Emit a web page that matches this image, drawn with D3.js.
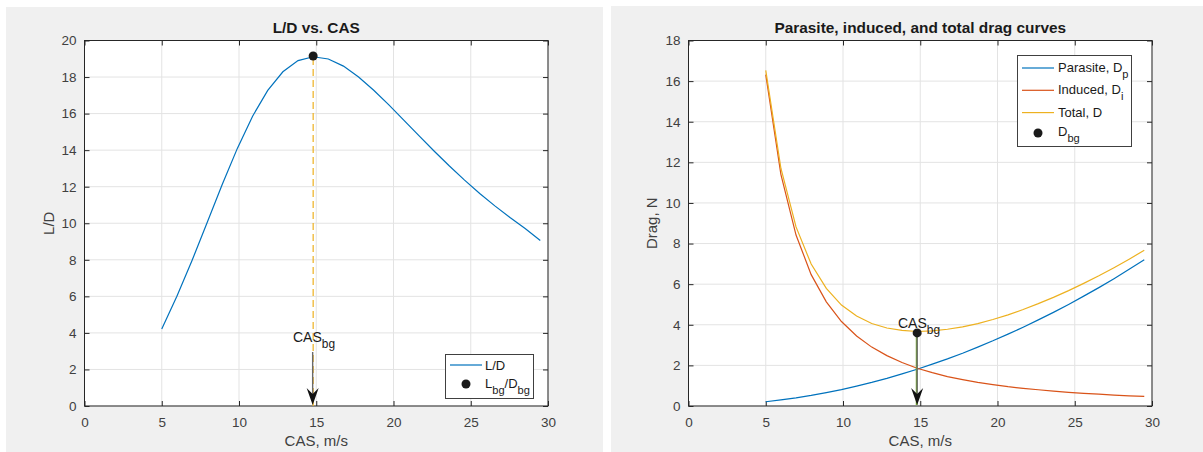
<!DOCTYPE html>
<html><head><meta charset="utf-8">
<script src="https://cdn.jsdelivr.net/npm/d3@7"></script>
<style>
body{margin:0;background:#fff;}
svg{display:block;font-family:"Liberation Sans",Arial,Helvetica,sans-serif;}
</style></head>
<body><svg id="chart" width="1203" height="452"></svg>
<script>
// ---- data ----
const cas = [5.00,5.98,6.96,7.94,8.92,9.90,10.88,11.86,12.84,13.82,14.80,15.78,16.76,17.74,18.72,19.70,20.68,21.66,22.64,23.62,24.60,25.58,26.56,27.54,28.52,29.50];
const liftToDrag = [4.22,6.00,7.96,10.04,12.13,14.11,15.86,17.27,18.29,18.90,19.11,18.99,18.60,18.00,17.28,16.48,15.63,14.78,13.94,13.13,12.36,11.63,10.95,10.31,9.71,9.06];
const parasiteDrag = [0.21,0.30,0.40,0.52,0.66,0.81,0.98,1.16,1.36,1.58,1.81,2.06,2.32,2.60,2.90,3.21,3.54,3.88,4.24,4.61,5.00,5.41,5.83,6.27,6.73,7.20];
const inducedDrag = [16.32,11.41,8.42,6.47,5.13,4.16,3.45,2.90,2.48,2.14,1.86,1.64,1.45,1.30,1.16,1.05,0.95,0.87,0.80,0.73,0.67,0.62,0.58,0.54,0.50,0.47];
const totalDrag = [16.53,11.71,8.82,6.99,5.79,4.97,4.43,4.06,3.84,3.72,3.67,3.70,3.78,3.90,4.06,4.26,4.49,4.75,5.04,5.35,5.68,6.04,6.41,6.81,7.23,7.67];
const casBg = 14.8;
const ldBg = 19.15;
const dragBg = 3.6;
const xTicks = [0,5,10,15,20,25,30];
const ldTicks = [0,2,4,6,8,10,12,14,16,18,20];
const dragTicks = [0,2,4,6,8,10,12,14,16,18];

const C = {blue:"#0072BD", red:"#D95319", yellow:"#EDB120", green:"#77AC30", axis:"#262626", grid:"#e3e3e3", text:"#404040"};
const svg = d3.select("#chart");

// panel backgrounds
svg.append("rect").attr("x",6).attr("y",7).attr("width",597).attr("height",445).attr("fill","#f0f0f0");
svg.append("rect").attr("x",611).attr("y",6).attr("width",592).attr("height",446).attr("fill","#f0f0f0");

function makeAxes(o){
  const g = svg.append("g");
  const x = d3.scaleLinear().domain([0,30]).range([o.x0,o.x1]);
  const y = d3.scaleLinear().domain([0,o.ymax]).range([o.y1,o.y0]);
  g.append("rect").attr("x",o.x0).attr("y",o.y0).attr("width",o.x1-o.x0).attr("height",o.y1-o.y0).attr("fill","#fff");
  // grid
  g.append("g").selectAll("line").data(o.xt).join("line")
    .attr("x1",d=>x(d)).attr("x2",d=>x(d)).attr("y1",o.y0).attr("y2",o.y1)
    .attr("stroke",C.grid).attr("stroke-width",1);
  g.append("g").selectAll("line").data(o.yt).join("line")
    .attr("y1",d=>y(d)).attr("y2",d=>y(d)).attr("x1",o.x0).attr("x2",o.x1)
    .attr("stroke",C.grid).attr("stroke-width",1);
  const style = a => { a.select(".domain").remove(); a.selectAll("line").attr("stroke",C.axis);
    a.selectAll("text").attr("fill",C.text).attr("font-size","13.5px").attr("font-family","Liberation Sans, Arial, sans-serif"); };
  g.append("g").attr("transform",`translate(0,${o.y1})`)
    .call(d3.axisBottom(x).tickValues(o.xt).tickSize(-5).tickPadding(11).tickFormat(d3.format("d"))).call(style);
  g.append("g").attr("transform",`translate(0,${o.y0})`)
    .call(d3.axisTop(x).tickValues(o.xt).tickSize(-5).tickFormat("")).call(style);
  g.append("g").attr("transform",`translate(${o.x0},0)`)
    .call(d3.axisLeft(y).tickValues(o.yt).tickSize(-5).tickPadding(8).tickFormat(d3.format("d"))).call(style);
  g.append("g").attr("transform",`translate(${o.x1},0)`)
    .call(d3.axisRight(y).tickValues(o.yt).tickSize(-5).tickFormat("")).call(style);
  // box
  g.append("rect").attr("x",o.x0).attr("y",o.y0).attr("width",o.x1-o.x0).attr("height",o.y1-o.y0)
    .attr("fill","none").attr("stroke",C.axis).attr("stroke-width",1);
  // labels
  svg.append("text").attr("x",(o.x0+o.x1)/2).attr("y",33).attr("text-anchor","middle")
    .attr("font-weight","bold").attr("font-size","15.4px").attr("fill","#1a1a1a").text(o.title);
  svg.append("text").attr("x",(o.x0+o.x1)/2).attr("y",446).attr("text-anchor","middle")
    .attr("font-size","15px").attr("fill",C.text).text("CAS, m/s");
  svg.append("text").attr("transform",`translate(${o.ylx},${(o.y0+o.y1)/2}) rotate(-90)`).attr("text-anchor","middle")
    .attr("font-size","15px").attr("fill",C.text).text(o.ylabel);
  return {g,x,y};
}

function subText(sel, x, y, parts, size){
  const t = sel.append("text").attr("x",x).attr("y",y).attr("font-size",size+"px").attr("fill","#1a1a1a");
  let sub = false;
  parts.forEach(p=>{
    const isSub = p.sub===true;
    const dy = isSub && !sub ? size*0.45 : (!isSub && sub ? -size*0.45 : 0);
    t.append("tspan").attr("dy",dy).attr("font-size",(isSub?size*0.85:size)+"px").text(p.t);
    sub = isSub;
  });
  return t;
}

function arrow(g, x, yTop, yBot, withGreen){
  if(withGreen) g.append("line").attr("x1",x-0.5).attr("x2",x-0.5).attr("y1",yTop).attr("y2",yBot)
      .attr("stroke",C.green).attr("stroke-width",1.8);
  g.append("line").attr("x1",x).attr("x2",x).attr("y1",yTop).attr("y2",yBot-8)
    .attr("stroke","#6a6a6a").attr("stroke-width",1.4);
  g.append("path").attr("d",`M${x},${yBot} L${x-6},${yBot-17} L${x},${yBot-11} L${x+6},${yBot-17} Z`)
    .attr("fill","#111");
}

// ---- left chart ----
const L = makeAxes({x0:84.5,x1:548,y0:40.5,y1:406,ymax:20,xt:xTicks,yt:ldTicks,title:"L/D vs. CAS",ylabel:"L/D",ylx:54});
L.g.append("line").attr("x1",L.x(casBg)).attr("x2",L.x(casBg)).attr("y1",L.y(0)).attr("y2",L.y(ldBg))
  .attr("stroke",C.yellow).attr("stroke-width",1.2).attr("stroke-dasharray","7,4");
L.g.append("path").datum(cas.map((v,i)=>[v,liftToDrag[i]]))
  .attr("d",d3.line().x(d=>L.x(d[0])).y(d=>L.y(d[1]))).attr("fill","none").attr("stroke",C.blue).attr("stroke-width",1.2);
arrow(L.g, L.x(casBg)-0.5, 352, 405, false);
subText(L.g, 293, 342, [{t:"CAS"},{t:"bg",sub:true}], 14);
L.g.append("circle").attr("cx",L.x(casBg)).attr("cy",L.y(ldBg)).attr("r",4.5).attr("fill","#1a1a1a");
// legend
const lg = L.g.append("g");
lg.append("rect").attr("x",445.5).attr("y",354.5).attr("width",88).attr("height",44).attr("fill","#fff").attr("stroke","#404040");
lg.append("line").attr("x1",450).attr("x2",482).attr("y1",365).attr("y2",365).attr("stroke",C.blue).attr("stroke-width",1.2);
lg.append("text").attr("x",485).attr("y",370).attr("font-size","13px").attr("fill","#1a1a1a").text("L/D");
lg.append("circle").attr("cx",466).attr("cy",384).attr("r",4.5).attr("fill","#1a1a1a");
subText(lg, 485, 388, [{t:"L"},{t:"bg",sub:true},{t:"/D"},{t:"bg",sub:true}], 13);

// ---- right chart ----
const R = makeAxes({x0:688.5,x1:1152,y0:40.5,y1:406,ymax:18,xt:xTicks,yt:dragTicks,title:"Parasite, induced, and total drag curves",ylabel:"Drag, N",ylx:657});
const series = [[parasiteDrag,C.blue],[inducedDrag,C.red],[totalDrag,C.yellow]];
series.forEach(([vals,col])=>{
  R.g.append("path").datum(cas.map((v,i)=>[v,vals[i]]))
    .attr("d",d3.line().x(d=>R.x(d[0])).y(d=>R.y(d[1]))).attr("fill","none").attr("stroke",col).attr("stroke-width",1.2);
});
arrow(R.g, R.x(casBg), R.y(dragBg), 405, true);
subText(R.g, 898, 328, [{t:"CAS"},{t:"bg",sub:true}], 14);
R.g.append("circle").attr("cx",R.x(casBg)).attr("cy",R.y(dragBg)).attr("r",4.5).attr("fill","#1a1a1a");
const rg = R.g.append("g");
rg.append("rect").attr("x",1017.5).attr("y",55.5).attr("width",114).attr("height",91).attr("fill","#fff").attr("stroke","#404040");
const entries = [[C.blue,[{t:"Parasite, D"},{t:"p",sub:true}]],[C.red,[{t:"Induced, D"},{t:"i",sub:true}]],[C.yellow,[{t:"Total, D"}]]];
entries.forEach(([col,parts],i)=>{
  const yy = 68 + i*22.3;
  rg.append("line").attr("x1",1022).attr("x2",1054).attr("y1",yy).attr("y2",yy).attr("stroke",col).attr("stroke-width",1.2);
  subText(rg, 1058, yy+4, parts, 13);
});
rg.append("circle").attr("cx",1038).attr("cy",133).attr("r",4.5).attr("fill","#1a1a1a");
subText(rg, 1058, 136, [{t:"D"},{t:"bg",sub:true}], 13);
</script></body></html>
